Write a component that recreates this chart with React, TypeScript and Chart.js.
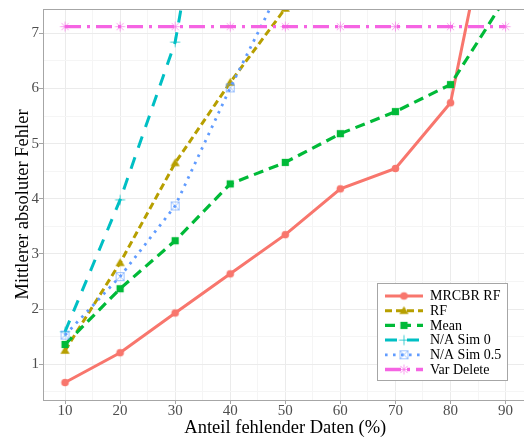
import React, { useEffect, useRef } from 'react';
import { Chart, registerables } from 'chart.js';

Chart.register(...registerables);

// ---- data ----
const xValues = [10, 20, 30, 40, 50, 60, 70, 80, 90];
const mrcbrRf = [0.67, 1.21, 1.93, 2.64, 3.35, 4.18, 4.55, 5.74, 10.6];
const rf = [1.25, 2.84, 4.65, 6.11, 7.45, null, null, null, null];
const meanImp = [1.36, 2.37, 3.24, 4.27, 4.66, 5.18, 5.58, 6.07, 7.64];
const naSim0 = [1.59, 3.98, 6.84, 12.5, null, null, null, null, null];
const naSim05 = [1.53, 2.59, 3.87, 6.01, 8.0, null, null, null, null];
const varDelete = [7.12, 7.12, 7.12, 7.12, 7.12, 7.12, 7.12, 7.12, 7.12];

const seriesLabels = ['MRCBR RF', 'RF', 'Mean', 'N/A Sim 0', 'N/A Sim 0.5', 'Var Delete'];
const seriesValues = [mrcbrRf, rf, meanImp, naSim0, naSim05, varDelete];

const xTicks = [10, 20, 30, 40, 50, 60, 70, 80, 90];
const yTicks = [1, 2, 3, 4, 5, 6, 7];

const xTitle = 'Anteil fehlender Daten (%)';
const yTitle = 'Mittlerer absoluter Fehler';

// ---- styles ----
const FONT = '"Liberation Serif", "Times New Roman", serif';
const colors = ['#F8766D', '#B79F00', '#00BA38', '#00BFC4', '#619CFF', '#F564E3'];
const dashes: number[][] = [[], [7, 4], [10, 6], [12, 10], [2.6, 5.4], [16, 6, 3, 6]];
const widths = [3, 3, 3.2, 3, 2.8, 3.4];
const markerKinds = ['circle', 'triangle', 'square', 'plus', 'squareX', 'asterisk'];

function makeMarker(kind: string, color: string): HTMLCanvasElement {
  const c = document.createElement('canvas');
  c.width = 13;
  c.height = 13;
  const g = c.getContext('2d')!;
  const m = 6.5;
  g.fillStyle = color;
  g.strokeStyle = color;
  g.lineWidth = 1;
  if (kind === 'circle') {
    g.beginPath();
    g.arc(m, m, 3.8, 0, Math.PI * 2);
    g.fill();
  } else if (kind === 'triangle') {
    g.beginPath();
    g.moveTo(m, m - 4.4);
    g.lineTo(m + 4.6, m + 3.3);
    g.lineTo(m - 4.6, m + 3.3);
    g.closePath();
    g.fill();
  } else if (kind === 'square') {
    g.fillRect(m - 3.6, m - 3.6, 7.2, 7.2);
  } else if (kind === 'plus') {
    g.globalAlpha = 0.75;
    g.beginPath();
    g.moveTo(m - 5, m);
    g.lineTo(m + 5, m);
    g.moveTo(m, m - 5);
    g.lineTo(m, m + 5);
    g.stroke();
  } else if (kind === 'squareX') {
    g.globalAlpha = 0.6;
    g.strokeRect(m - 4, m - 4, 8, 8);
    g.beginPath();
    g.moveTo(m - 4, m - 4);
    g.lineTo(m + 4, m + 4);
    g.moveTo(m + 4, m - 4);
    g.lineTo(m - 4, m + 4);
    g.stroke();
  } else if (kind === 'asterisk') {
    g.globalAlpha = 0.6;
    g.beginPath();
    g.moveTo(m - 5, m);
    g.lineTo(m + 5, m);
    g.moveTo(m, m - 5);
    g.lineTo(m, m + 5);
    g.moveTo(m - 3.6, m - 3.6);
    g.lineTo(m + 3.6, m + 3.6);
    g.moveTo(m + 3.6, m - 3.6);
    g.lineTo(m - 3.6, m + 3.6);
    g.stroke();
  }
  return c;
}

const legendPlugin = {
  id: 'ggLegend',
  afterDraw(chart: any) {
    const ctx = chart.ctx as CanvasRenderingContext2D;
    const x0 = 377, y0 = 283, w = 131, h = 98;
    ctx.save();
    ctx.fillStyle = '#FFFFFF';
    ctx.fillRect(x0, y0, w, h);
    ctx.strokeStyle = '#A6A6A6';
    ctx.lineWidth = 1;
    ctx.strokeRect(x0 + 0.5, y0 + 0.5, w - 1, h - 1);
    chart.data.datasets.forEach((ds: any, i: number) => {
      const cy = 296 + i * 14.7;
      ctx.save();
      ctx.strokeStyle = ds.borderColor;
      ctx.lineWidth = ds.borderWidth;
      ctx.setLineDash(ds.borderDash || []);
      ctx.lineCap = 'butt';
      ctx.beginPath();
      ctx.moveTo(385, cy);
      ctx.lineTo(423, cy);
      ctx.stroke();
      ctx.restore();
      const img = ds.pointStyle as HTMLCanvasElement;
      ctx.drawImage(img, 404 - img.width / 2, cy - img.height / 2);
      ctx.fillStyle = '#000000';
      ctx.font = `14px ${FONT}`;
      ctx.textBaseline = 'middle';
      ctx.textAlign = 'left';
      ctx.fillText(ds.label, 430, cy + 0.5);
    });
    ctx.restore();
  },
};

const topBorderPlugin = {
  id: 'topBorder',
  afterDatasetsDraw(chart: any) {
    const { ctx, chartArea } = chart;
    ctx.save();
    ctx.strokeStyle = '#A6A6A6';
    ctx.lineWidth = 1;
    ctx.beginPath();
    ctx.moveTo(chartArea.left, Math.round(chartArea.top) + 0.5);
    ctx.lineTo(chartArea.right, Math.round(chartArea.top) + 0.5);
    ctx.stroke();
    ctx.restore();
  },
};

export default function App() {
  const ref = useRef<HTMLCanvasElement | null>(null);

  useEffect(() => {
    if (!ref.current) return;
    const xGrid: number[] = [];
    for (let i = 0; i < xTicks.length; i++) {
      xGrid.push(xTicks[i]);
      if (i < xTicks.length - 1) xGrid.push((xTicks[i] + xTicks[i + 1]) / 2);
    }
    const yGrid: number[] = [yTicks[0] - 0.5];
    for (let i = 0; i < yTicks.length; i++) {
      yGrid.push(yTicks[i]);
      if (i < yTicks.length - 1) yGrid.push((yTicks[i] + yTicks[i + 1]) / 2);
    }
    const majorGrid = (v: number, major: number[]) => major.includes(v);

    const datasets = seriesLabels.map((label, i) => ({
      label,
      data: xValues.map((x, j) => ({ x, y: seriesValues[i][j] })),
      borderColor: colors[i],
      backgroundColor: colors[i],
      borderWidth: widths[i],
      borderDash: dashes[i],
      borderCapStyle: 'butt',
      pointStyle: makeMarker(markerKinds[i], colors[i]),
      pointRadius: 4,
      tension: 0,
      clip: 0,
      order: seriesLabels.length - 1 - i,
    }));

    const chart = new Chart(ref.current, {
      type: 'line',
      data: { datasets: datasets as any },
      options: {
        responsive: false,
        animation: false,
        layout: { padding: { top: 9, left: 0, right: 0, bottom: 0 } },
        plugins: { legend: { display: false }, tooltip: { enabled: false } },
        scales: {
          x: {
            type: 'linear',
            min: 6,
            max: 94,
            afterBuildTicks: (s: any) => {
              s.ticks = xGrid.map((v) => ({ value: v }));
            },
            afterFit: (s: any) => {
              s.height = 37;
            },
            grid: {
              color: (c: any) => (majorGrid(c.tick?.value, xTicks) ? '#EBEBEB' : '#F5F5F5'),
              tickColor: (c: any) => (majorGrid(c.tick?.value, xTicks) ? '#A6A6A6' : 'rgba(0,0,0,0)'),
              tickLength: 4,
              lineWidth: 1,
            },
            border: { color: '#A6A6A6', width: 1 },
            ticks: {
              autoSkip: false,
              maxRotation: 0,
              padding: -2,
              color: '#4D4D4D',
              font: { family: FONT, size: 15 },
              callback: (v: any) => (xTicks.includes(v) ? String(v) : ''),
            },
            title: {
              display: true,
              text: xTitle,
              color: '#000000',
              font: { family: FONT, size: 18.5 },
              padding: { top: 0, bottom: -2 },
            },
          },
          y: {
            type: 'linear',
            min: 0.353,
            max: 7.44,
            afterBuildTicks: (s: any) => {
              s.ticks = yGrid.map((v) => ({ value: v }));
            },
            afterFit: (s: any) => {
              s.width = 43;
            },
            grid: {
              color: (c: any) => (majorGrid(c.tick?.value, yTicks) ? '#EBEBEB' : '#F5F5F5'),
              tickColor: (c: any) => (majorGrid(c.tick?.value, yTicks) ? '#A6A6A6' : 'rgba(0,0,0,0)'),
              tickLength: 4,
              lineWidth: 1,
            },
            border: { color: '#A6A6A6', width: 1 },
            ticks: {
              autoSkip: false,
              padding: 0,
              color: '#4D4D4D',
              font: { family: FONT, size: 15 },
              callback: (v: any) => (yTicks.includes(v) ? String(v) : ''),
            },
            title: {
              display: true,
              text: yTitle,
              color: '#000000',
              font: { family: FONT, size: 18.5 },
              padding: { top: 12.5, bottom: 0 },
            },
          },
        },
      },
      plugins: [topBorderPlugin, legendPlugin],
    });
    return () => chart.destroy();
  }, []);

  return (
    <div
      style={{
        position: 'absolute',
        left: 0,
        top: 0,
        width: 524,
        height: 437,
        overflow: 'hidden',
        background: '#FFFFFF',
      }}
    >
      <canvas ref={ref} width={535} height={437} style={{ width: 535, height: 437, display: 'block' }} />
    </div>
  );
}
